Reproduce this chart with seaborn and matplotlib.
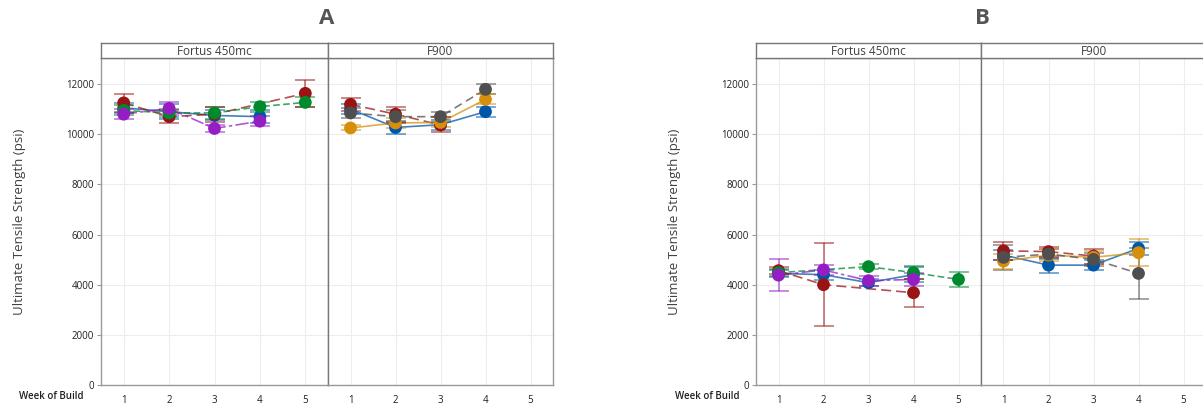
import numpy as np
import pandas as pd
import matplotlib
matplotlib.use("Agg")
import matplotlib.pyplot as plt
import seaborn as sns

# ---- data ----
weeks = [1, 2, 3, 4, 5]
machines = ["Fortus 450mc", "F900"]

# panel A, Fortus 450mc
a_fortus = {
    "blue":   ([1, 2, 3, 4], [11050, 10900, 10750, 10700], [200, 300, 200, 250]),
    "red":    ([1, 2, 3, 5], [11250, 10700, 10800, 11630], [350, 250, 300, 550]),
    "green":  ([1, 2, 3, 4, 5], [10950, 10850, 10850, 11100, 11270], [200, 150, 250, 200, 200]),
    "purple": ([1, 2, 3, 4], [10800, 11030, 10230, 10520], [200, 250, 150, 200]),
}
# panel A, F900
a_f900 = {
    "blue":   ([1, 2, 3, 4], [11000, 10270, 10380, 10900], [200, 250, 200, 200]),
    "red":    ([1, 2, 3], [11190, 10800, 10370], [250, 300, 300]),
    "orange": ([1, 2, 3, 4], [10250, 10450, 10470, 11390], [100, 200, 200, 200]),
    "gray":   ([1, 2, 3, 4], [10850, 10700, 10700, 11790], [200, 250, 200, 200]),
}
# panel B, Fortus 450mc
b_fortus = {
    "blue":   ([1, 2, 3, 4], [4450, 4400, 4080, 4400], [150, 200, 150, 300]),
    "red":    ([1, 2, 4], [4560, 4000, 3680], [150, 1650, 550]),
    "green":  ([1, 3, 4, 5], [4480, 4720, 4480, 4210], [150, 100, 250, 300]),
    "purple": ([1, 2, 3, 4], [4380, 4590, 4160, 4210], [650, 200, 200, 250]),
}
# panel B, F900
b_f900 = {
    "blue":   ([1, 2, 3, 4], [5180, 4780, 4780, 5450], [200, 300, 200, 250]),
    "red":    ([1, 2, 3], [5350, 5320, 5140], [350, 200, 300]),
    "orange": ([1, 2, 3, 4], [4940, 5180, 5090, 5275], [300, 250, 250, 530]),
    "gray":   ([1, 2, 3, 4], [5090, 5220, 5010, 4450], [500, 200, 250, 1020]),
}

palette = {"blue": "#0057A8", "red": "#9A1414", "green": "#008A2E",
           "purple": "#951DC4", "orange": "#D68F0C", "gray": "#4F4F4F"}
dashes = {"blue": "", "red": (6, 3), "green": (4, 2), "purple": (8, 2, 2, 2),
          "orange": "", "gray": (5, 3)}

rows = []
for panel, mach, d in [("A", machines[0], a_fortus), ("A", machines[1], a_f900),
                       ("B", machines[0], b_fortus), ("B", machines[1], b_f900)]:
    for s, (wk, val, err) in d.items():
        for w, v, e in zip(wk, val, err):
            rows.append(dict(panel=panel, machine=mach, week=w, series=s, uts=v, err=e))
df = pd.DataFrame(rows)

sns.set_style("white")
plt.rcParams["font.family"] = ["Open Sans", "DejaVu Sans"]

W, H = 1203, 408
fig = plt.figure(figsize=(W / 100, H / 100), dpi=100)

def box(x0, y0, x1, y1):
    return [x0 / W, (H - y1) / H, (x1 - x0) / W, (y1 - y0) / H]

txt = "#404040"
edge = "#9A9A9A"
ymax = 13040

panels = {"A": (101, 328, 553), "B": (756, 981, 1206)}
for panel, (x0, xm, x1) in panels.items():
    for i, (mach, (l, r)) in enumerate(zip(machines, [(x0, xm), (xm, x1)])):
        ax = fig.add_axes(box(l, 58, r, 385))
        sub = df[(df.panel == panel) & (df.machine == mach)]
        ax.set_xlim(0.5, 5.5)
        ax.set_ylim(0, ymax)
        ax.set_xticks(weeks)
        ax.set_yticks(range(0, 12001, 2000))
        ax.grid(True, color="#EDEDED", lw=0.8)
        ax.set_axisbelow(True)
        sns.lineplot(data=sub, x="week", y="uts", hue="series", style="series",
                     palette=palette, dashes=dashes, errorbar=None, legend=False,
                     lw=1.2, alpha=0.75, ax=ax, zorder=2)
        for s, g in sub.groupby("series"):
            ax.errorbar(g.week, g.uts, yerr=g.err, fmt="none", ecolor=palette[s],
                        elinewidth=1.2, capsize=7.5, capthick=1.2, alpha=0.6, zorder=3)
        sns.scatterplot(data=sub, x="week", y="uts", hue="series", palette=palette,
                        s=85, edgecolor="none", legend=False, ax=ax, zorder=4)
        ax.set_xlabel("")
        ax.set_ylabel("")
        ax.tick_params(axis="x", length=0, pad=7, labelsize=7, labelcolor="#202020")
        for sp in ax.spines.values():
            sp.set_color(edge)
            sp.set_linewidth(1)
        if i == 0:
            ax.tick_params(axis="y", length=3, width=0.8, color=edge, pad=2,
                           labelsize=7, labelcolor="#202020", left=True)
            ax.set_ylabel("Ultimate Tensile Strength (psi)", fontsize=9.5,
                          color=txt, labelpad=29)
            ax.text(-0.075, -0.035, "Week of Build", transform=ax.transAxes,
                    ha="right", va="center", fontsize=7, fontweight="semibold",
                    color="#202020")
        else:
            ax.set_yticklabels([])
            ax.tick_params(axis="y", length=0)
            ax.spines["left"].set_color("#777777")
        # facet header
        hx = fig.add_axes(box(l, 43, r, 58))
        hx.set_xticks([])
        hx.set_yticks([])
        hx.set_facecolor("white")
        for sp in hx.spines.values():
            sp.set_color("#777777")
            sp.set_linewidth(1)
        hx.text(0.5, 0.45, mach, ha="center", va="center", fontsize=8.5, color=txt)
    fig.text((x0 + (553 - 101) / 2) / W, 1 - 18 / H, panel, ha="center", va="center",
             fontsize=16, fontweight="bold", color="#555555")

fig.savefig("out.png", dpi=100)
